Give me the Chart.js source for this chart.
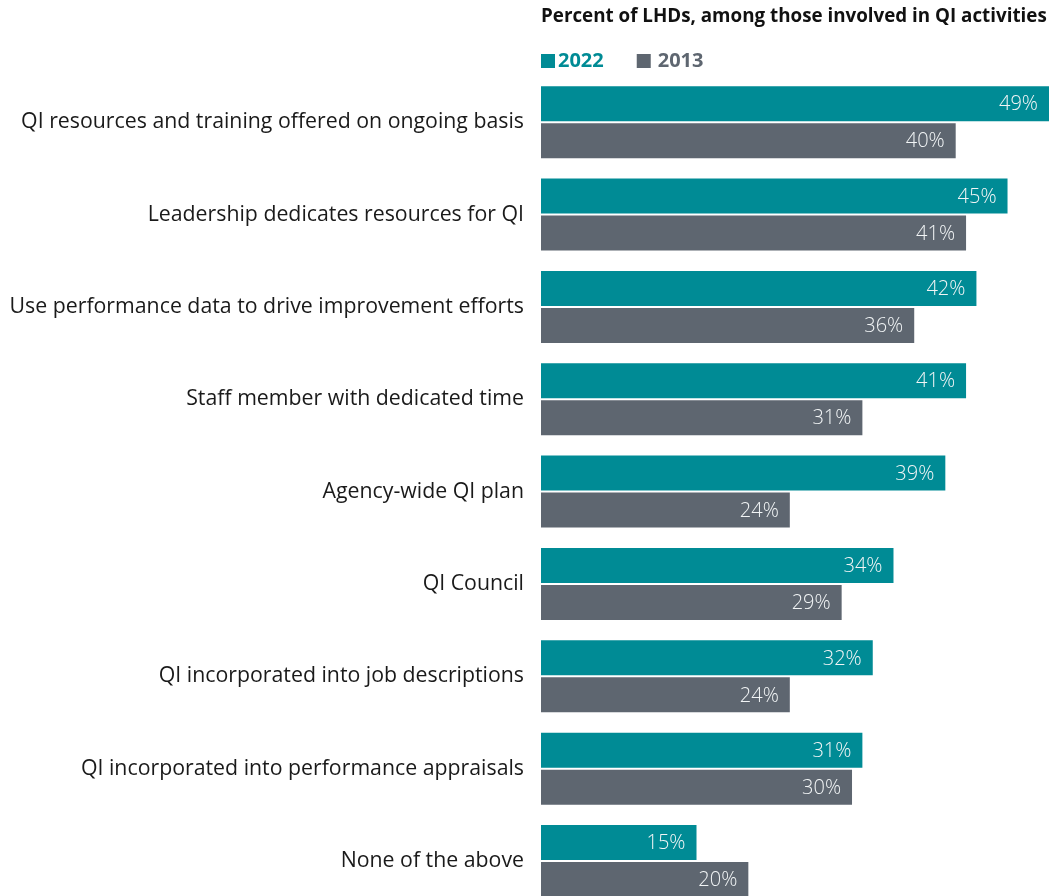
<!DOCTYPE html>
<html>
<head>
<meta charset="utf-8">
<script src="https://cdn.jsdelivr.net/npm/chart.js@4.4.1/dist/chart.umd.min.js"></script>
<style>
  html, body { margin: 0; padding: 0; background: #ffffff; overflow: hidden; }
  #c { display: block; }
</style>
</head>
<body>
<canvas id="c" width="1053" height="937"></canvas>
<script>
// QI practices among local health departments, 2022 vs 2013
const categories = [
  "QI resources and training offered on ongoing basis",
  "Leadership dedicates resources for QI",
  "Use performance data to drive improvement efforts",
  "Staff member with dedicated time",
  "Agency-wide QI plan",
  "QI Council",
  "QI incorporated into job descriptions",
  "QI incorporated into performance appraisals",
  "None of the above"
];
const seriesNames = ["2022", "2013"];
const values2022 = [49, 45, 42, 41, 39, 34, 32, 31, 15];
const values2013 = [40, 41, 36, 31, 24, 29, 24, 30, 20];
const titleText = "Percent of LHDs, among those involved in QI activities";

const colors = ["#008b95", "#5e6670"];
const FONT = "'Open Sans', 'DejaVu Sans', sans-serif";

// percentage labels drawn inside the end of each bar
const valueLabels = {
  id: 'valueLabels',
  afterDatasetsDraw(chart) {
    const ctx = chart.ctx;
    ctx.save();
    ctx.font = "300 20px " + FONT;
    ctx.fillStyle = "#f2f5f6";
    ctx.textAlign = "right";
    ctx.textBaseline = "middle";
    chart.data.datasets.forEach((ds, i) => {
      const meta = chart.getDatasetMeta(i);
      meta.data.forEach((bar, j) => {
        ctx.fillText(ds.data[j] + "%", bar.x - 11, bar.y + 1);
      });
    });
    ctx.restore();
  }
};

// heading and series key, left-aligned with the bars
const header = {
  id: 'header',
  afterDraw(chart) {
    const ctx = chart.ctx;
    const left = chart.chartArea.left;
    ctx.save();
    ctx.textAlign = "left";
    ctx.textBaseline = "alphabetic";
    ctx.fillStyle = "#111111";
    ctx.font = "bold 18.8px " + FONT;
    ctx.fillText(titleText, left, 22);

    ctx.font = "bold 20px " + FONT;
    ctx.textBaseline = "middle";
    let x = left;
    seriesNames.forEach((name, i) => {
      ctx.fillStyle = colors[i];
      ctx.fillRect(x, 54, 14, 14);
      const tx = x + 14 + (i === 0 ? 3 : 7);
      ctx.fillText(name, tx, 61);
      x = tx + ctx.measureText(name).width + 33;
    });
    ctx.restore();
  }
};

new Chart(document.getElementById('c'), {
  type: 'bar',
  data: {
    labels: categories,
    datasets: [
      { label: seriesNames[0], data: values2022, backgroundColor: colors[0] },
      { label: seriesNames[1], data: values2013, backgroundColor: colors[1] }
    ]
  },
  options: {
    indexAxis: 'y',
    responsive: false,
    animation: false,
    categoryPercentage: 0.801,
    barPercentage: 0.946,
    layout: { padding: { top: 76, right: 4, bottom: 1, left: 0 } },
    scales: {
      x: { display: false, min: 0, max: 49 },
      y: {
        grid: { display: false, drawTicks: false },
        border: { display: false },
        afterFit(scale) { scale.width = 541; },
        ticks: {
          padding: 17,
          color: "#1a1a1a",
          font: { family: FONT, size: 21.3 }
        }
      }
    },
    plugins: {
      tooltip: { enabled: false },
      title: { display: false },
      legend: { display: false }
    }
  },
  plugins: [valueLabels, header]
});
</script>
</body>
</html>
